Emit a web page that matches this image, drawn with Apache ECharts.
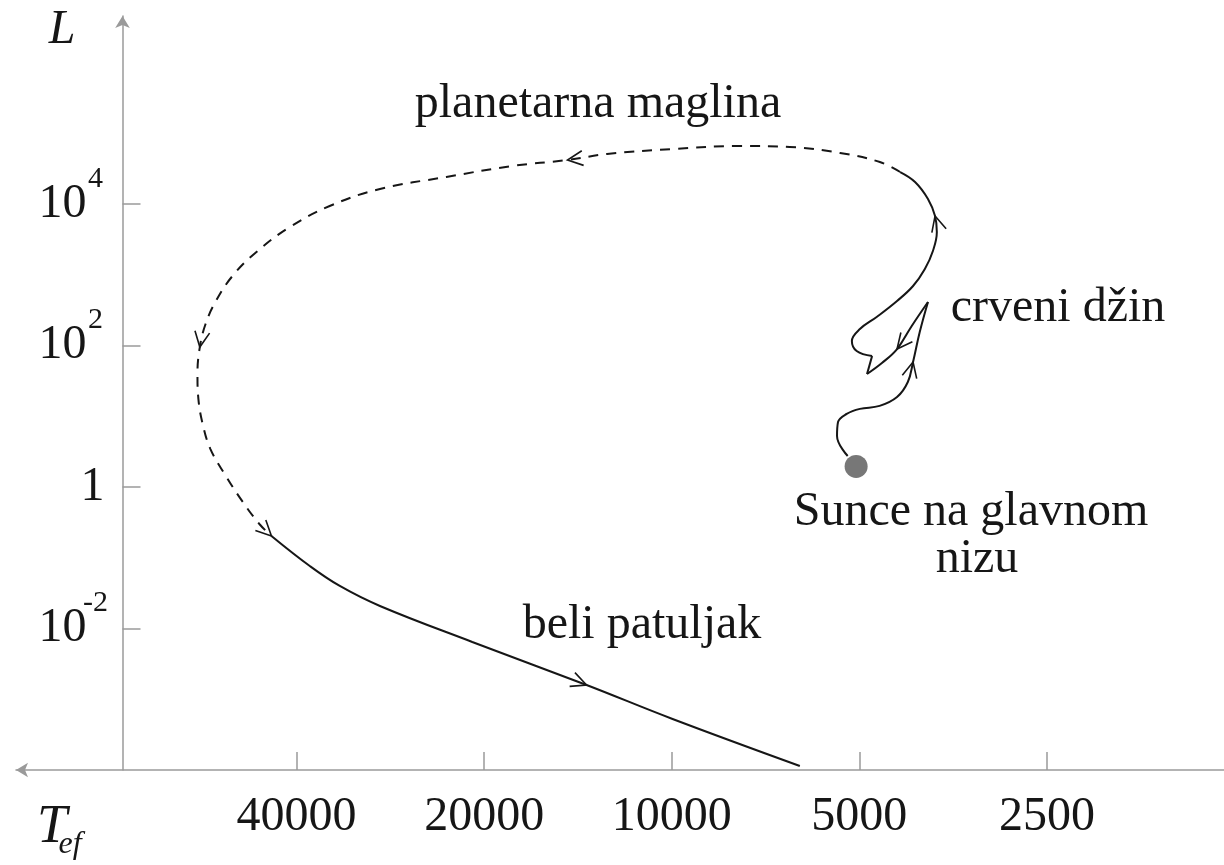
<!DOCTYPE html>
<html><head><meta charset="utf-8">
<script src="https://cdn.jsdelivr.net/npm/echarts@6/dist/echarts.min.js"></script>
<style>html,body{margin:0;padding:0;background:#fff}#c{width:1224px;height:865px}</style>
</head><body><div id="c"></div>
<script>
// ---- data (T in K, L in solar units) ----
const xTicksT = [40000, 20000, 10000, 5000, 2500];
const yTicksExp = [-2, 0, 2, 4];

const sunT = [5060];
const sunL = [1.95];

// main sequence -> tip of red giant branch
const segA_T = [5220, 5430, 5410, 5240, 4990, 4640, 4350, 4180, 4100, 4000, 3880];
const segA_L = [2.74, 5.26, 8.29, 10.8, 12.7, 14.0, 18.7, 30.5, 58.5, 155, 412];
// helium flash drop
const segB1_T = [3880, 4120, 4350, 4600, 4860];
const segB1_L = [412, 189, 89, 56.6, 39.6];
const segB2_T = [4860, 4770];
const segB2_L = [39.6, 71];
// horizontal branch loop -> asymptotic giant branch
const segB3_T = [4770, 5050, 5140, 4990, 4690, 4350, 4100, 3925, 3810, 3755, 3780, 3880, 4070, 4300];
const segB3_L = [71, 83.6, 116, 171, 253, 426, 693, 1206, 2170, 4020, 6770, 11800, 20500, 28300];
// planetary nebula phase (dashed)
const segPN_T = [4300, 4635, 5370, 6470, 7780, 9970, 12700, 14700, 18000, 23000, 29400, 35400, 41000, 46400, 50700, 54000, 56000, 57200, 57700, 57500, 56600, 55000, 52200, 48800, 45900, 43900];
const segPN_L = [28300, 39200, 52600, 63900, 66000, 59900, 50900, 41900, 34500, 24100, 16300, 9370, 4730, 2100, 960, 412, 201, 95, 39.6, 17.5, 7.77, 3.44, 1.53, 0.614, 0.300, 0.203];
// white dwarf cooling
const segWD_T = [43900, 38100, 34100, 29400, 20900, 13700, 9970, 6230];
const segWD_L = [0.203, 0.0764, 0.0399, 0.0208, 0.00645, 0.00159, 0.000526, 0.000114];

// direction arrows: [segment, point index]
const arrowAt = [['A', 8], ['B1', 2], ['B3', 10], ['PN', 7], ['PN', 17], ['PN', 25], ['WD', 5]];

// ---- build ----
const FONT = "'Liberation Serif', 'Times New Roman', serif";
const INK = '#161616';
const AXIS = '#9a9a9a';
const toX = T => Math.log2(T / 2500);
const toY = L => Math.log10(L);
const pts = (Ts, Ls) => Ts.map((t, i) => [toX(t), toY(Ls[i])]);

const segs = {
  A: pts(segA_T, segA_L), B1: pts(segB1_T, segB1_L), B2: pts(segB2_T, segB2_L),
  B3: pts(segB3_T, segB3_L), PN: pts(segPN_T, segPN_L), WD: pts(segWD_T, segWD_L)
};

const arrowData = arrowAt.map(([k, i]) => {
  const p = segs[k];
  const a = p[Math.max(i - 1, 0)], b = p[Math.min(i + 1, p.length - 1)];
  return [p[i][0], p[i][1], a[0], a[1], b[0], b[1]];
});

function lineSeries(key, dashed) {
  return {
    type: 'line', data: segs[key], smooth: 0.4, symbol: 'none', showSymbol: false,
    silent: true, clip: false, z: 3,
    lineStyle: { color: INK, width: 2, type: dashed ? [10, 8] : 'solid' }
  };
}

const chart = echarts.init(document.getElementById('c'), null, { renderer: 'canvas' });
chart.setOption({
  animation: false,
  backgroundColor: '#fff',
  grid: { left: 16, right: 0, top: 16, bottom: 95, containLabel: false, outerBoundsMode: 'none' },
  xAxis: {
    type: 'value', inverse: true, min: -0.944, max: 5.496,
    splitLine: { show: false },
    axisLine: { onZero: false, lineStyle: { color: AXIS, width: 1.5 }, symbol: ['arrow', 'none'], symbolSize: [11, 12] },
    axisTick: { inside: true, length: 18, customValues: xTicksT.map(toX), lineStyle: { color: AXIS, width: 1.5 } },
    axisLabel: {
      customValues: xTicksT.map(toX), margin: 23, fontFamily: FONT, fontSize: 48, color: INK,
      formatter: v => String(Math.round(2500 * Math.pow(2, v)))
    }
  },
  yAxis: {
    type: 'value', min: -4, max: 6.657, position: 'left', offset: -106.5,
    splitLine: { show: false },
    axisLine: { onZero: false, lineStyle: { color: AXIS, width: 1.5 }, symbol: ['none', 'arrow'], symbolSize: [11, 12] },
    axisTick: { inside: true, length: 18, customValues: yTicksExp, lineStyle: { color: AXIS, width: 1.5 } },
    axisLabel: {
      customValues: yTicksExp, margin: 18, align: 'right',
      formatter: v => { const e = Math.round(v); return e === 0 ? '{b|1}' : '{b|10}{s|' + e + '}'; },
      rich: {
        b: { fontFamily: FONT, fontSize: 48, color: INK, padding: [16, 0, 16, 0] },
        s: { fontFamily: FONT, fontSize: 30, color: INK, verticalAlign: 'top', width: 18, align: 'left' }
      }
    }
  },
  series: [
    lineSeries('A'), lineSeries('B1'), lineSeries('B2'), lineSeries('B3'),
    lineSeries('PN', true), lineSeries('WD'),
    {
      type: 'custom', coordinateSystem: 'cartesian2d', data: arrowData, encode: { x: 0, y: 1 },
      silent: true, clip: false, z: 4,
      renderItem: (params, api) => {
        const p = api.coord([api.value(0), api.value(1)]);
        const a = api.coord([api.value(2), api.value(3)]);
        const b = api.coord([api.value(4), api.value(5)]);
        const ang = Math.atan2(b[1] - a[1], b[0] - a[0]);
        const L = 17, h = 0.45;
        const p1 = [p[0] - L * Math.cos(ang - h), p[1] - L * Math.sin(ang - h)];
        const p2 = [p[0] - L * Math.cos(ang + h), p[1] - L * Math.sin(ang + h)];
        return { type: 'polyline', shape: { points: [p1, p, p2] }, style: { stroke: INK, lineWidth: 1.6, fill: null } };
      }
    },
    {
      type: 'scatter', data: sunT.map((t, i) => [toX(t), toY(sunL[i])]), symbolSize: 23,
      silent: true, z: 5, itemStyle: { color: '#555555' }
    }
  ],
  graphic: [
    { type: 'text', x: 62, y: 30, style: { text: 'L', fontFamily: FONT, fontSize: 48, fontStyle: 'italic', fill: INK, align: 'center', verticalAlign: 'middle' } },
    { type: 'text', x: 52, y: 828, style: { text: 'T', fontFamily: FONT, fontSize: 54, fontStyle: 'italic', fill: INK, align: 'center', verticalAlign: 'middle' } },
    { type: 'text', x: 70, y: 845, style: { text: 'ef', fontFamily: FONT, fontSize: 32, fontStyle: 'italic', fill: INK, align: 'center', verticalAlign: 'middle' } },
    { type: 'text', x: 598, y: 104, style: { text: 'planetarna maglina', fontFamily: FONT, fontSize: 48, fill: INK, align: 'center', verticalAlign: 'middle' } },
    { type: 'text', x: 1058, y: 308, style: { text: 'crveni džin', fontFamily: FONT, fontSize: 48, fill: INK, align: 'center', verticalAlign: 'middle' } },
    { type: 'text', x: 971, y: 512, style: { text: 'Sunce na glavnom', fontFamily: FONT, fontSize: 48, fill: INK, align: 'center', verticalAlign: 'middle' } },
    { type: 'text', x: 977, y: 559, style: { text: 'nizu', fontFamily: FONT, fontSize: 48, fill: INK, align: 'center', verticalAlign: 'middle' } },
    { type: 'text', x: 642, y: 625, style: { text: 'beli patuljak', fontFamily: FONT, fontSize: 48, fill: INK, align: 'center', verticalAlign: 'middle' } }
  ]
});
</script></body></html>
